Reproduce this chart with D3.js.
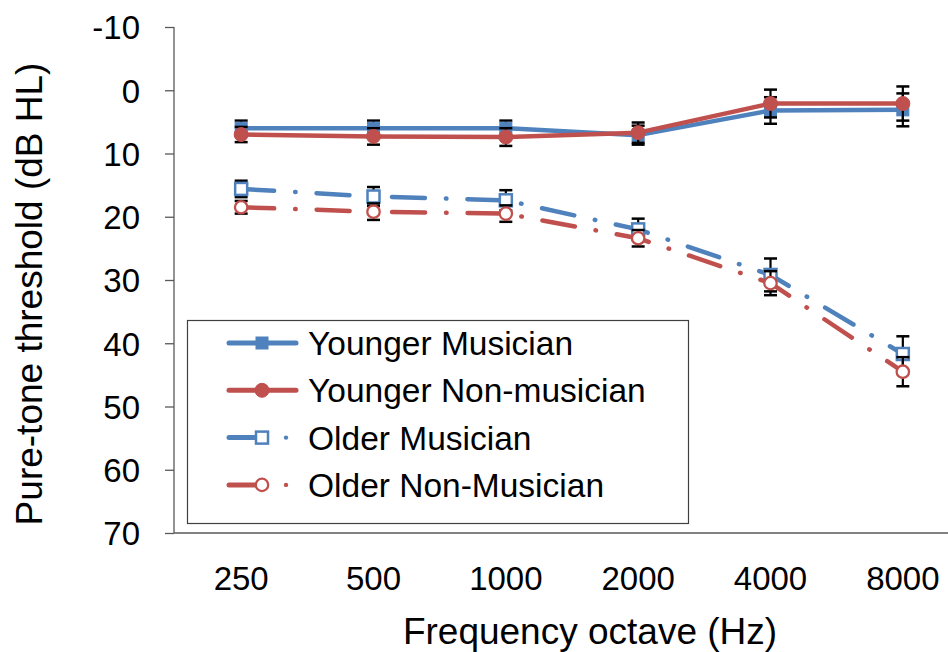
<!DOCTYPE html>
<html><head><meta charset="utf-8">
<script src="https://cdn.jsdelivr.net/npm/d3@7/dist/d3.min.js"></script>
<style>body{margin:0;background:#fff}svg{display:block}text{font-family:"Liberation Sans",Arial,sans-serif;fill:#000}</style>
</head><body><svg id="c" width="948" height="652"></svg>
<script>
const categories = ["250","500","1000","2000","4000","8000"];
const yTicks = [-10,0,10,20,30,40,50,60,70];
const seriesNames = ["Younger Musician","Younger Non-musician","Older Musician","Older Non-Musician"];
const youngerMusician = [6.0, 6.0, 6.0, 7.1, 3.2, 3.1];
const youngerMusicianErr = [1.2, 1.2, 1.2, 1.5, 2.1, 2.6];
const youngerNonMusician = [7.0, 7.3, 7.4, 6.7, 2.1, 2.1];
const youngerNonMusicianErr = [1.2, 1.3, 1.4, 1.6, 2.2, 2.7];
const olderMusician = [15.6, 16.8, 17.4, 22.0, 29.2, 41.7];
const olderMusicianErr = [1.3, 1.5, 1.6, 1.7, 2.6, 2.8];
const olderNonMusician = [18.5, 19.2, 19.5, 23.4, 30.5, 44.5];
const olderNonMusicianErr = [1.0, 1.3, 1.3, 1.3, 1.9, 2.3];

const BLUE = "#4F81BD", RED = "#C0504D";
const series = [
  {name: seriesNames[0], vals: youngerMusician, err: youngerMusicianErr, color: BLUE, marker: "square", filled: true, dashed: false},
  {name: seriesNames[1], vals: youngerNonMusician, err: youngerNonMusicianErr, color: RED, marker: "circle", filled: true, dashed: false},
  {name: seriesNames[2], vals: olderMusician, err: olderMusicianErr, color: BLUE, marker: "square", filled: false, dashed: true},
  {name: seriesNames[3], vals: olderNonMusician, err: olderNonMusicianErr, color: RED, marker: "circle", filled: false, dashed: true}
];

const svg = d3.select("#c");
const x = d3.scaleBand().domain(categories).range([175, 969]);
const xc = c => x(c) + x.bandwidth()/2;
const y = d3.scaleLinear().domain([-10, 70]).range([27, 533]);
const AX = "#595959";

// y axis
const yAxis = svg.append("g").attr("transform", "translate(174,0)")
  .call(d3.axisLeft(y).tickValues(yTicks).tickSize(9).tickPadding(25).tickFormat(d => String(d)));
yAxis.select(".domain").attr("stroke", AX).attr("stroke-width", 1.3).attr("d", "M0,27V533");
yAxis.selectAll(".tick line").attr("stroke", AX).attr("stroke-width", 1.3);
yAxis.selectAll(".tick text").style("font-size", "33px").attr("dy", "0.36em");

// x axis
const xAxis = svg.append("g").attr("transform", "translate(0,533)")
  .call(d3.axisBottom(x).tickSize(0).tickPadding(34));
xAxis.select(".domain").attr("stroke", AX).attr("stroke-width", 1.3).attr("d", "M174,0H969");
xAxis.selectAll(".tick text").style("font-size", "33px");

// titles
svg.append("text").attr("x", 590).attr("y", 644).attr("text-anchor", "middle")
  .style("font-size", "37px").text("Frequency octave (Hz)");
svg.append("text").attr("transform", "translate(42,294) rotate(-90)").attr("text-anchor", "middle")
  .style("font-size", "37px").text("Pure-tone threshold (dB HL)");

const line = d3.line().x((d,i) => xc(categories[i])).y(d => y(d));
const DASH = "33,21,0.5,21";

function drawMarker(g, s, cx, cy) {
  if (s.marker === "square") {
    const sz = s.filled ? 12 : 12;
    g.append("rect").attr("x", cx - sz/2).attr("y", cy - sz/2).attr("width", sz).attr("height", sz)
      .attr("fill", s.filled ? s.color : "#fff").attr("stroke", s.color).attr("stroke-width", s.filled ? 1 : 2.5);
  } else {
    g.append("circle").attr("cx", cx).attr("cy", cy).attr("r", s.filled ? 7 : 6.2)
      .attr("fill", s.filled ? s.color : "#fff").attr("stroke", s.color).attr("stroke-width", s.filled ? 1 : 2.3);
  }
}

series.forEach(s => {
  const g = svg.append("g");
  g.append("path").attr("d", line(s.vals)).attr("fill", "none").attr("stroke", s.color)
    .attr("stroke-width", 4.5).attr("stroke-linecap", "round").attr("stroke-linejoin", "round")
    .attr("stroke-dasharray", s.dashed ? DASH : null);
  s.vals.forEach((v, i) => {
    const cx = xc(categories[i]);
    const y1 = y(v - s.err[i]), y2 = y(v + s.err[i]);
    g.append("line").attr("x1", cx).attr("x2", cx).attr("y1", y1).attr("y2", y2).attr("stroke", "#000").attr("stroke-width", 2.2);
    [y1, y2].forEach(yy => g.append("line").attr("x1", cx - 6.5).attr("x2", cx + 6.5).attr("y1", yy).attr("y2", yy).attr("stroke", "#000").attr("stroke-width", 2.5));
  });
  s.vals.forEach((v, i) => drawMarker(g, s, xc(categories[i]), y(v)));
});

// legend
const lg = svg.append("g");
lg.append("rect").attr("x", 187.5).attr("y", 320.5).attr("width", 501).attr("height", 203)
  .attr("fill", "#fff").attr("stroke", "#404040").attr("stroke-width", 1.2);
series.forEach((s, i) => {
  const cy = 343 + i * 47.3;
  if (s.dashed) {
    lg.append("line").attr("x1", 229).attr("x2", 256).attr("y1", cy).attr("y2", cy).attr("stroke", s.color).attr("stroke-width", 5).attr("stroke-linecap", "round");
    lg.append("circle").attr("cx", 286).attr("cy", cy).attr("r", 2.2).attr("fill", s.color);
  } else {
    lg.append("line").attr("x1", 229).attr("x2", 296).attr("y1", cy).attr("y2", cy).attr("stroke", s.color).attr("stroke-width", 5).attr("stroke-linecap", "round");
  }
  drawMarker(lg, s, 262, cy);
  lg.append("text").attr("x", 308).attr("y", cy).attr("dy", "0.36em").style("font-size", "33.5px").text(s.name);
});
</script></body></html>
